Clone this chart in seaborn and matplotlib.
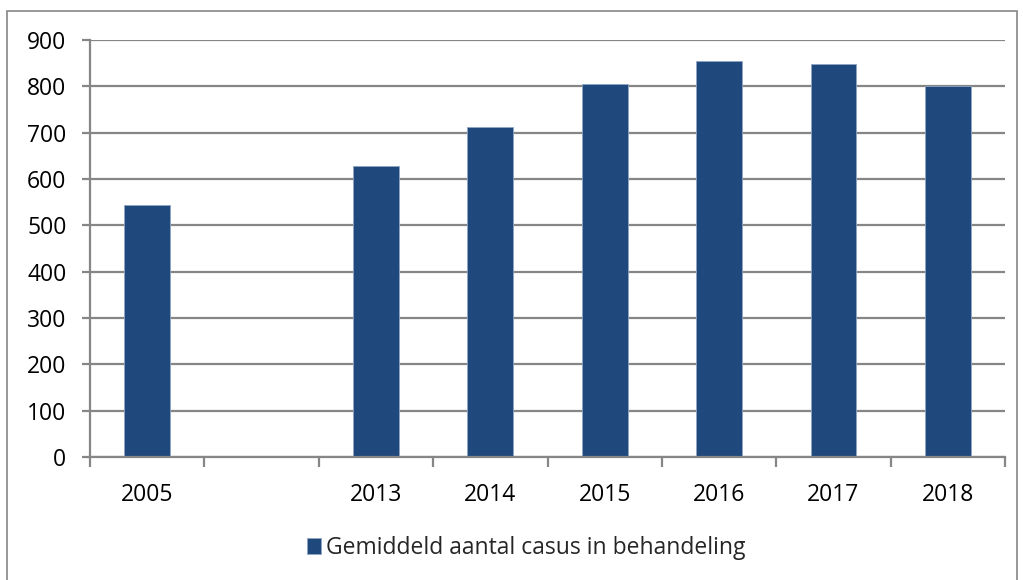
import numpy as np
import pandas as pd
import matplotlib
matplotlib.use("Agg")
import matplotlib.pyplot as plt
import seaborn as sns
from matplotlib.patches import Rectangle
from matplotlib.ticker import FixedLocator

categories = ["2005", " ", "2013", "2014", "2015", "2016", "2017", "2018"]
values = [544, np.nan, 628, 712, 806, 854, 849, 801]
series_name = "Gemiddeld aantal casus in behandeling"
yticks = [0, 100, 200, 300, 400, 500, 600, 700, 800, 900]

sns.set_theme(style="white")
plt.rcParams['font.family'] = ['Open Sans', 'DejaVu Sans']

W, H = 1023, 580
fig = plt.figure(figsize=(W / 100, H / 100), dpi=100)
ax = fig.add_axes([90 / W, 1 - 457 / H, (1005 - 90) / W, (457 - 40) / H])

df = pd.DataFrame({"Jaar": categories, "Aantal": values, "Reeks": series_name})
sns.barplot(data=df, x="Jaar", y="Aantal", order=categories, hue="Reeks",
            palette=["#1F497D"], saturation=1, width=0.4, ax=ax,
            edgecolor="#8EA5C4", linewidth=0.6, legend=True)

ax.set_xlim(-0.5, len(categories) - 0.5)
ax.set_ylim(0, 900)
ax.set_yticks(yticks)
ax.set_yticklabels([str(v) for v in yticks])
ax.grid(axis="y", color="#868686", linewidth=1.6)
ax.set_axisbelow(True)
ax.set_xlabel("")
ax.set_ylabel("")

for s in ["top", "right"]:
    ax.spines[s].set_visible(False)
for s in ["left", "bottom"]:
    ax.spines[s].set_color("#868686")
    ax.spines[s].set_linewidth(1.6)

ax.tick_params(axis="y", which="major", left=True, length=6, width=1.6,
               color="#868686", labelsize=16.5, labelcolor="black", pad=11)
ax.tick_params(axis="x", which="major", bottom=False, labelsize=16.5,
               labelcolor="black", pad=13)
ax.xaxis.set_minor_locator(FixedLocator(np.arange(-0.5, len(categories), 1.0)))
ax.tick_params(axis="x", which="minor", bottom=True, length=7, width=1.6,
               color="#868686")

leg = ax.legend(loc="center", bbox_to_anchor=(526 / W, 1 - 548 / H),
                bbox_transform=fig.transFigure, frameon=False,
                fontsize=16.5, handlelength=0.65, handleheight=0.65,
                handletextpad=0.2, borderaxespad=0)

fig.patches.append(Rectangle((7 / W, -0.01), (1017 - 7) / W, 1 - 11 / H + 0.01,
                             transform=fig.transFigure, fill=False,
                             edgecolor="#868686", linewidth=1.2))

fig.savefig("out.png", dpi=100)
